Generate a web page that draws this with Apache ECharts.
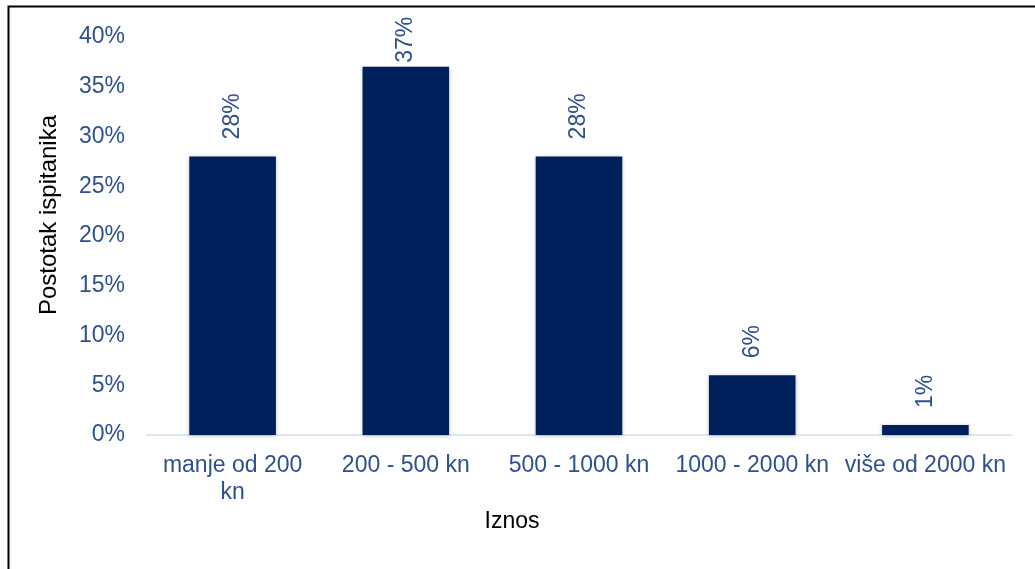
<!DOCTYPE html>
<html><head><meta charset="utf-8">
<script src="https://cdn.jsdelivr.net/npm/echarts@6/dist/echarts.min.js"></script>
<style>html,body{margin:0;padding:0;background:#fff}#c{width:1035px;height:569px}</style>
</head><body><div id="c"></div>
<script>
const categories = ['manje od 200\nkn', '200 - 500 kn', '500 - 1000 kn', '1000 - 2000 kn', 'više od 2000 kn'];
const values = [28, 37, 28, 6, 1];
const yTicks = [0, 5, 10, 15, 20, 25, 30, 35, 40];

const chart = echarts.init(document.getElementById('c'));
const labelColor = '#2E5090';
const ff = 'Arial, "Liberation Sans", sans-serif';
// the tallest bar's label is squeezed against the plot top, as in the reference
const maxV = Math.max(...values);
const barData = values.map(v => v === maxV ? {value: v, label: {distance: 4}} : v);
chart.setOption({
  animation: false,
  grid: {left: 146, right: 23, top: 37, bottom: 134, containLabel: false},
  graphic: [
    {type: 'polyline', shape: {points: [[8.5, 569], [8.5, 6.5], [1035, 6.5]]}, style: {fill: 'none', stroke: '#000', lineWidth: 2}, z: 10},
    {type: 'text', x: 49, y: 215, rotation: Math.PI / 2, style: {text: 'Postotak ispitanika', fill: '#000', font: '24px ' + ff, align: 'center', verticalAlign: 'middle'}},
    {type: 'text', x: 512, y: 522, style: {text: 'Iznos', fill: '#000', font: '23px ' + ff, align: 'center', verticalAlign: 'middle'}}
  ],
  xAxis: {
    type: 'category', data: categories,
    axisLine: {lineStyle: {color: '#D6E0F0', width: 1.5}},
    axisTick: {show: false},
    axisLabel: {color: labelColor, fontSize: 23, fontFamily: ff, margin: 17, lineHeight: 27, interval: 0}
  },
  yAxis: {
    type: 'value', min: 0, max: 40, interval: 5,
    axisLine: {show: false}, axisTick: {show: false}, splitLine: {show: false},
    axisLabel: {color: labelColor, fontSize: 23, fontFamily: ff, margin: 21, formatter: v => yTicks.includes(v) ? v + '%' : ''}
  },
  series: [{
    type: 'bar', data: barData, barWidth: '50%',
    itemStyle: {color: '#00205B', shadowBlur: 4, shadowColor: 'rgba(0,0,0,0.25)', shadowOffsetY: 1},
    label: {show: true, position: 'top', rotate: 90, align: 'left', verticalAlign: 'middle', distance: 17, color: labelColor, fontSize: 23, fontFamily: ff, formatter: p => p.value + '%'}
  }]
});
</script></body></html>
